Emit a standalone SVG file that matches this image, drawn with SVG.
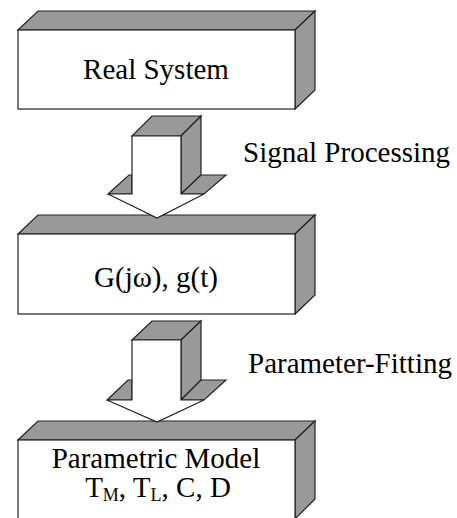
<svg xmlns="http://www.w3.org/2000/svg" width="457" height="518" viewBox="0 0 457 518">
<style>
.front{fill:#ffffff;stroke:#222;stroke-width:1.2;stroke-linejoin:miter}
.side{fill:#999999;stroke:#222;stroke-width:1.2;stroke-linejoin:miter}
.c{text-anchor:middle}
</style>
<rect width="457" height="518" fill="#fff"/>
<g font-family="Liberation Serif, Times New Roman, serif" font-size="29" fill="#000">
<g id="real-system">
<polygon class="side" points="18,30 38,11 315,11 295,30"/>
<polygon class="side" points="295,30 315,11 315,90 295,109"/>
<rect class="front" x="18" y="30" width="277" height="79"/>
<text class="c" x="156" y="79">Real System</text>
</g>
<g id="transfer">
<polygon class="side" points="18,234 38,215 315,215 295,234"/>
<polygon class="side" points="295,234 315,215 315,295 295,314"/>
<rect class="front" x="18" y="234" width="277" height="80"/>
<text class="c" x="156" y="287">G(jω), g(t)</text>
</g>
<g id="model">
<polygon class="side" points="18,440 38,421 315,421 295,440"/>
<polygon class="side" points="295,440 315,421 315,499 295,519"/>
<rect class="front" x="18" y="440" width="277" height="79"/>
<text class="c" x="156" y="468">Parametric Model</text>
<text class="c" x="158" y="497">T<tspan font-size="18" dy="4">M</tspan><tspan dy="-4">, T</tspan><tspan font-size="18" dy="4">L</tspan><tspan dy="-4">, C, D</tspan></text>
</g>
<g id="connectors">
<g id="arrow-signal">
<polygon class="side" points="132,136 152,116 201,116 181,136"/>
<polygon class="side" points="181,136 201,116 201,175 181,194"/>
<polygon class="side" points="108,194 129,175 132,175 132,194"/>
<polygon class="side" points="181,194 201,175 226,175 204,194"/>
<polygon class="front" points="132,136 181,136 181,194 204,194 157,218 108,194 132,194"/>
<text x="243" y="162">Signal Processing</text>
</g>
<g id="arrow-fit">
<polygon class="side" points="132,340 152,321 201,321 181,340"/>
<polygon class="side" points="181,340 201,321 201,380 181,400"/>
<polygon class="side" points="107,400 128,380 132,380 132,400"/>
<polygon class="side" points="181,400 201,380 226,380 204,400"/>
<polygon class="front" points="132,340 181,340 181,400 204,400 157,422 107,400 132,400"/>
<text x="248" y="373">Parameter-Fitting</text>
</g>
</g>
</g>
</svg>
